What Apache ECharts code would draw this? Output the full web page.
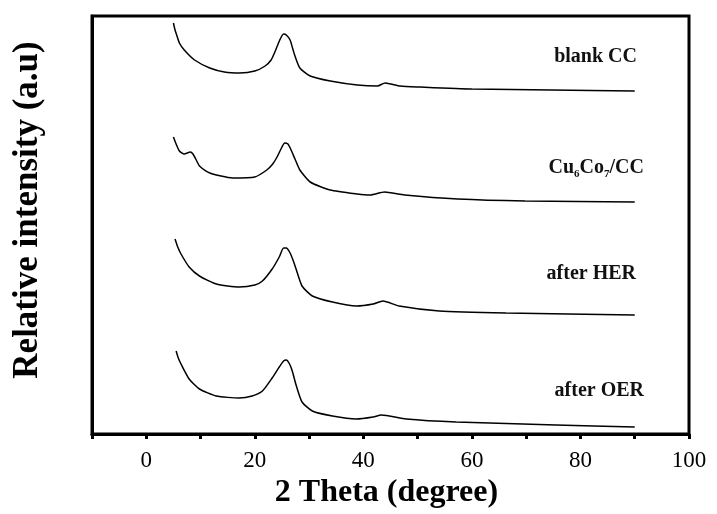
<!DOCTYPE html>
<html><head><meta charset="utf-8">
<script src="https://cdn.jsdelivr.net/npm/echarts@6/dist/echarts.min.js"></script>
<style>html,body{margin:0;padding:0;background:#fff}#c{width:717px;height:514px}</style>
</head><body><div id="c"></div>
<script>
// 2θ (degree) / relative intensity (a.u., vertically offset stack as drawn)
var blankCC = [[5.0,411],[5.3,404],[5.6,399],[6.1,391],[7.0,384],[8.9,374],[11.7,366],[14.4,362],[17.2,361],[20,363],[21.9,368],[23.0,374],[23.7,382],[24.6,394],[25.3,400],[25.8,399],[26.5,394],[27.0,385],[27.4,378],[28.3,366],[30.2,358],[33.9,353],[38.9,349],[42.6,348],[44.0,351],[46.8,348],[50.5,347],[60,345],[74.6,344],[90,343]];
var cuCoCC = [[5.0,297],[5.5,290],[6.1,283],[7.0,280],[8.1,282],[8.6,280],[9.3,273],[9.8,268],[11.7,261],[15.9,256],[20,257],[22.2,264],[23.3,270],[24.1,277],[25.0,287],[25.5,291],[26.1,290],[26.6,285],[27.4,275],[28.3,264],[30.2,252],[33.9,244],[38.9,240],[41.2,239],[43.9,242],[47.6,239],[57.4,235],[69.8,233],[90,232]];
var afterHER = [[5.3,195],[5.8,187],[6.4,180],[7.9,167],[9.8,158],[12.9,150],[17.1,147],[20,149],[21.4,153],[23.2,165],[24.5,177],[25.3,186],[25.8,186],[26.5,181],[27.1,173],[27.6,165],[28.7,148],[30.6,138],[34.3,132],[38.7,128],[41.8,130],[43.6,133],[46.6,128],[54,123],[66.3,121],[90,119]];
var afterOER = [[5.5,83],[5.9,76],[6.4,70],[7.9,55],[9.8,45],[12.9,38],[17.1,36],[19.5,38],[21.4,43],[23.2,56],[24.5,67],[25.3,73],[25.8,74],[26.4,70],[26.9,63],[27.6,49],[28.7,32],[30.6,23],[34.3,18],[38.7,15],[41.8,17],[43.3,19],[47.9,15],[57.1,12],[75.5,9],[90,7]];
var seriesNames = ['blank CC','Cu6Co7/CC','after HER','after OER'];
var xTicks = [-10,0,10,20,30,40,50,60,70,80,90,100];

var chart = echarts.init(document.getElementById('c'));
var F = '"Liberation Serif","Times New Roman",serif';
function line(name, data){
  return {name:name,type:'line',data:data,showSymbol:false,smooth:0.2,
    lineStyle:{color:'#000',width:1.5},silent:true,animation:false};
}
function lbl(text,x,y,rich){
  var st={text:text,x:0,y:0,align:'right',verticalAlign:'middle',textAlign:'right',textVerticalAlign:'middle',
    font:'bold 20px '+F,fill:'#111'};
  if(rich) st.rich=rich;
  return {type:'text',x:x,y:y,style:st,silent:true};
}
chart.setOption({
  backgroundColor:'#fff',
  animation:false,
  grid:{left:92,right:28,top:16,bottom:80,show:true,borderColor:'#000',borderWidth:3},
  xAxis:{type:'value',min:-10,max:100,interval:10,
    name:'2 Theta (degree)',nameLocation:'middle',nameGap:41,
    nameTextStyle:{fontFamily:F,fontWeight:'bold',fontSize:32,color:'#000',padding:[0,8,0,0]},
    axisLine:{onZero:false,lineStyle:{color:'#000',width:3}},
    axisTick:{show:true,inside:false,length:5,lineStyle:{color:'#000',width:3}},
    axisLabel:{fontFamily:F,fontSize:23,color:'#000',margin:15,
      formatter:function(v){return (v%20===0)?String(v):'';}},
    splitLine:{show:false}},
  yAxis:{type:'value',min:0,max:418,
    axisLine:{onZero:false,lineStyle:{color:'#000',width:3}},
    axisTick:{show:false},axisLabel:{show:false},splitLine:{show:false}},
  graphic:[
    {type:'text',x:28,y:210,rotation:Math.PI/2,silent:true,
      style:{text:'Relative intensity (a.u)',x:0,y:0,align:'center',verticalAlign:'middle',textAlign:'center',textVerticalAlign:'middle',
        font:'bold 35px '+F,fill:'#000'}},
    lbl('blank CC',637,57),
    lbl('{n|Cu}{s|6}{n|Co}{s|7}{n|/CC}',644,168,{
      n:{fontFamily:F,fontWeight:'bold',fontSize:20,fill:'#111'},
      s:{fontFamily:F,fontWeight:'bold',fontSize:11,fill:'#111',padding:[12,0,0,0]}}),
    lbl('after HER',636,274),
    lbl('after OER',644,391)
  ],
  series:[line(seriesNames[0],blankCC),line(seriesNames[1],cuCoCC),line(seriesNames[2],afterHER),line(seriesNames[3],afterOER)]
});
</script></body></html>
